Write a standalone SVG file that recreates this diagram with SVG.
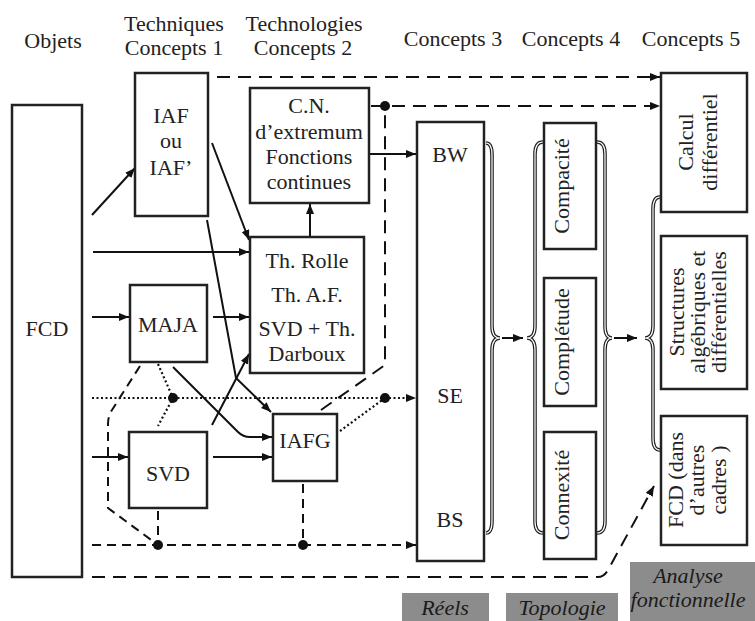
<svg xmlns="http://www.w3.org/2000/svg" width="755" height="621" viewBox="0 0 755 621" font-family="'Liberation Serif', 'DejaVu Serif', serif">
<defs>
<marker id="ah" markerUnits="userSpaceOnUse" markerWidth="11" markerHeight="9" refX="10" refY="4" orient="auto">
<path d="M0,0 L10,4 L0,8 z" fill="#111"/>
</marker>
<style>
.box{fill:#fff;stroke:#222;stroke-width:2.5}
.t{font-family:'Liberation Serif','DejaVu Serif',serif;font-size:22px;fill:#222;text-anchor:middle}
.it{font-style:italic;fill:#1a1a1a}
.ln{fill:none;stroke:#111;stroke-width:2}
.ar{marker-end:url(#ah)}
.ds{stroke-dasharray:13 8}
.ds2{stroke-dasharray:9 6}
.dt{stroke-dasharray:2 2.5;stroke-width:2.2}
.brO{fill:none;stroke:#222;stroke-width:3.6}
.brI{fill:none;stroke:#fff;stroke-width:1.2}
.lab{fill:#8c8c8c}
</style>
</defs>
<rect width="755" height="621" fill="#fff"/>

<g id="headers">
<text class="t" x="53" y="48">Objets</text>
<text class="t" x="174" y="31">Techniques</text>
<text class="t" x="174" y="55">Concepts 1</text>
<text class="t" x="304" y="31">Technologies</text>
<text class="t" x="303" y="55">Concepts 2</text>
<text class="t" x="453" y="46">Concepts 3</text>
<text class="t" x="571" y="46">Concepts 4</text>
<text class="t" x="691" y="46">Concepts 5</text>
</g>

<g id="connectors">
<path class="ln ds ar" d="M217,77 L660,77"/>
<path class="ln ds ar" d="M371,106 L660,106"/>
<path class="ln ds" d="M321,410 L385,365 L385,106"/>
<path class="ln ar" d="M369,154 L416,154"/>
<path class="ln ar" d="M310,237 L310,204"/>
<path class="ln ar" d="M92,215 L135,168"/>
<path class="ln ar" d="M93,252 L249,252"/>
<path class="ln ar" d="M212,143 L249,240"/>
<path class="ln ar" d="M207,220 L236,378 L271,412"/>
<path class="ln ar" d="M92,317 L129,317"/>
<path class="ln ar" d="M213,317 L249,317"/>
<path class="ln ar" d="M173,367 L238,432 Q243,437 250,437 L272,437"/>
<path class="ln ar" d="M212,425 L249,354"/>
<path class="ln ar" d="M92,457 L128,457"/>
<path class="ln ar" d="M213,457 L272,457"/>
<path class="ln dt ar" d="M92,398 L416,398"/>
<path class="ln dt" d="M158,364 L173,398 L158,426"/>
<path class="ln dt" d="M340,431 L385,398"/>
<path class="ln ds2" d="M140,366 L112,410 Q108,416 108,424 L108,508 L158,545"/>
<path class="ln ds2" d="M158,511 L158,545"/>
<path class="ln ds2" d="M303,484 L303,545"/>
<path class="ln ds2 ar" d="M92,545 L416,545"/>
<path class="ln ds ar" d="M92,577 L598,577 Q604,577 608,570 L654,486"/>
<path class="ln ar" d="M502,338 L523,338"/>
<path class="ln ar" d="M614,338 L637,338"/>
<circle cx="385" cy="106" r="5" fill="#111"/>
<circle cx="173" cy="398" r="5" fill="#111"/>
<circle cx="385" cy="398" r="5" fill="#111"/>
<circle cx="158" cy="545" r="5" fill="#111"/>
<circle cx="303" cy="545" r="5" fill="#111"/>
</g>

<g id="braces">
<path class="brO" d="M486,143 Q492,143 492,155 L492,326 Q492,338 500,338 Q492,338 492,350 L492,521 Q492,533 486,533"/>
<path class="brI" d="M486,143 Q492,143 492,155 L492,326 Q492,338 500,338 Q492,338 492,350 L492,521 Q492,533 486,533"/>
<path class="brO" d="M543,142 Q535,142 535,154 L535,326 Q535,338 527,338 Q535,338 535,350 L535,521 Q535,533 543,533"/>
<path class="brI" d="M543,142 Q535,142 535,154 L535,326 Q535,338 527,338 Q535,338 535,350 L535,521 Q535,533 543,533"/>
<path class="brO" d="M597,142 Q605,142 605,154 L605,326 Q605,338 612,338 Q605,338 605,350 L605,521 Q605,533 597,533"/>
<path class="brI" d="M597,142 Q605,142 605,154 L605,326 Q605,338 612,338 Q605,338 605,350 L605,521 Q605,533 597,533"/>
<path class="brO" d="M660,197 Q653,197 653,209 L653,326 Q653,338 645,338 Q653,338 653,350 L653,438 Q653,450 660,450"/>
<path class="brI" d="M660,197 Q653,197 653,209 L653,326 Q653,338 645,338 Q653,338 653,350 L653,438 Q653,450 660,450"/>
</g>

<g id="fcd">
<rect class="box" x="12" y="105" width="70" height="472"/>
<text class="t" x="47" y="336">FCD</text>
</g>
<g id="iaf">
<rect class="box" x="135" y="73" width="73" height="143"/>
<text class="t" x="171" y="123">IAF</text>
<text class="t" x="171" y="148">ou</text>
<text class="t" x="171" y="175">IAF’</text>
</g>
<g id="cn">
<rect class="box" x="250" y="88" width="119" height="115"/>
<text class="t" x="309" y="113">C.N.</text>
<text class="t" x="309" y="139">d’extremum</text>
<text class="t" x="309" y="164">Fonctions</text>
<text class="t" x="309" y="189">continues</text>
</g>
<g id="rolle">
<rect class="box" x="250" y="237" width="114" height="136"/>
<text class="t" x="307" y="268">Th. Rolle</text>
<text class="t" x="307" y="302">Th. A.F.</text>
<text class="t" x="307" y="336">SVD + Th.</text>
<text class="t" x="307" y="361">Darboux</text>
</g>
<g id="maja">
<rect class="box" x="130" y="285" width="77" height="77"/>
<text class="t" x="168" y="332">MAJA</text>
</g>
<g id="svd">
<rect class="box" x="129" y="432" width="78" height="76"/>
<text class="t" x="168" y="481">SVD</text>
</g>
<g id="iafg">
<rect class="box" x="273" y="414" width="64" height="67"/>
<text class="t" x="305" y="448">IAFG</text>
</g>
<g id="reels">
<rect class="box" x="417" y="122" width="67" height="439"/>
<text class="t" x="450" y="162">BW</text>
<text class="t" x="450" y="403">SE</text>
<text class="t" x="450" y="527">BS</text>
</g>
<g id="compacite">
<rect class="box" x="544" y="123" width="52" height="126"/>
<text class="t" transform="translate(569,186) rotate(-90)">Compacité</text>
</g>
<g id="completude">
<rect class="box" x="544" y="278" width="52" height="128"/>
<text class="t" transform="translate(569,342) rotate(-90)">Complétude</text>
</g>
<g id="connexite">
<rect class="box" x="544" y="432" width="52" height="127"/>
<text class="t" transform="translate(569,495) rotate(-90)">Connexité</text>
</g>
<g id="calcul">
<rect class="box" x="661" y="73" width="86" height="139"/>
<g transform="translate(704,142) rotate(-90)">
<text class="t" y="-11">Calcul</text>
<text class="t" y="13">différentiel</text>
</g>
</g>
<g id="structures">
<rect class="box" x="661" y="236" width="86" height="153"/>
<g transform="translate(704,312) rotate(-90)">
<text class="t" y="-20">Structures</text>
<text class="t" y="1">algébriques et</text>
<text class="t" y="22">différentielles</text>
</g>
</g>
<g id="fcd-autres">
<rect class="box" x="661" y="416" width="86" height="129"/>
<g transform="translate(704,480) rotate(-90)">
<text class="t" y="-21">FCD (dans</text>
<text class="t" y="0">d’autres</text>
<text class="t" y="22">cadres )</text>
</g>
</g>

<g id="labels">
<rect class="lab" x="402" y="593" width="87" height="28"/>
<text class="t it" x="445" y="615">Réels</text>
<rect class="lab" x="506" y="593" width="112" height="28"/>
<text class="t it" x="562" y="615">Topologie</text>
<rect class="lab" x="630" y="562" width="125" height="59"/>
<text class="t it" x="688" y="583">Analyse</text>
<text class="t it" x="688" y="607">fonctionnelle</text>
</g>
</svg>
